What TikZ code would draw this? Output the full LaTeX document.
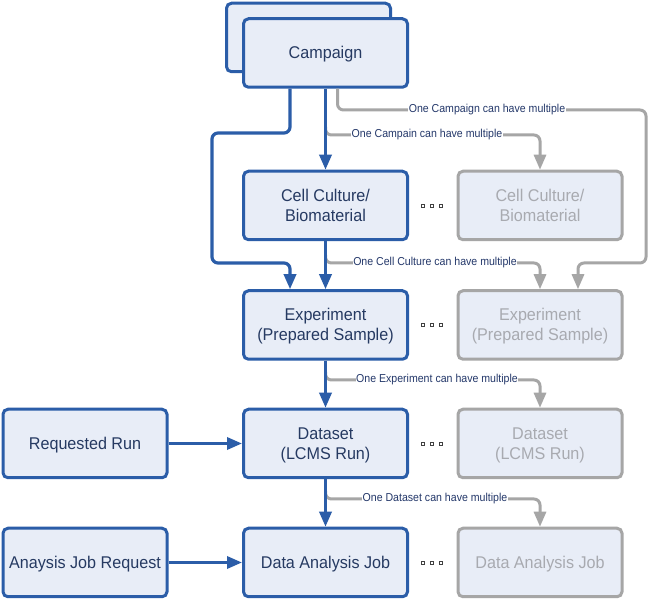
\documentclass[tikz,border=0pt]{standalone}
\usepackage{fontspec}
\setmainfont{Liberation Sans}
\usepackage{graphicx}
\usetikzlibrary{arrows.meta}
\definecolor{bblue}{RGB}{43,93,168}
\definecolor{bfill}{RGB}{232,237,247}
\definecolor{btext}{RGB}{38,58,98}
\definecolor{gline}{RGB}{166,166,166}
\definecolor{gtext}{RGB}{168,170,176}
\definecolor{ltext}{RGB}{36,56,106}
\newcommand{\bxt}[1]{\raisebox{-2pt}[\height][\depth]{\scalebox{0.95}[1]{\begin{tabular}{@{}c@{}}#1\end{tabular}}}}
\newcommand{\lbt}[1]{\scalebox{0.92}[1]{#1}}
\begin{document}
\begin{tikzpicture}[x=1pt,y=-1pt,
  box/.style={draw=bblue, fill=bfill, line width=3pt, rounded corners=5pt,
    minimum width=164pt, minimum height=68.5pt, text=btext,
    font=\fontsize{17}{20}\selectfont, inner sep=0pt},
  gbox/.style={box, draw=gline, text=gtext},
  bl/.style={draw=bblue, line width=3.2pt, rounded corners=6pt, -{Triangle[length=15pt,width=12pt]}},
  gr/.style={draw=gline, line width=3pt, rounded corners=6pt, -{Triangle[length=15pt,width=12pt]}},
  lab/.style={fill=white, text=ltext, font=\fontsize{11.5}{13}\selectfont, inner sep=0.6pt},
  sq/.style={draw=black!75, fill=white, line width=0.45pt, minimum size=2.8pt, inner sep=0pt}]
\useasboundingbox[fill=white] (0,0) rectangle (649,601);

% boxes
\node[box] (back) at (308.5,37.5) {};
\node[box] (camp) at (325.5,53) {\bxt{Campaign}};
\node[box] (cc) at (325.5,205.5) {\bxt{Cell Culture/\\Biomaterial}};
\node[box] (exp) at (325.5,325) {\bxt{Experiment\\(Prepared Sample)}};
\node[box] (ds) at (325.5,443.5) {\bxt{Dataset\\(LCMS Run)}};
\node[box] (daj) at (325.5,562.5) {\bxt{Data Analysis Job}};
\node[box] (rr) at (85,443.5) {\bxt{Requested Run}};
\node[box] (ajr) at (85,562.5) {\bxt{Anaysis Job Request}};
\node[gbox] (gcc) at (540,205.5) {\bxt{Cell Culture/\\Biomaterial}};
\node[gbox] (gexp) at (540,325) {\bxt{Experiment\\(Prepared Sample)}};
\node[gbox] (gds) at (540,443.5) {\bxt{Dataset\\(LCMS Run)}};
\node[gbox] (gdaj) at (540,562.5) {\bxt{Data Analysis Job}};

% dots
\foreach \y [count=\i] in {205.5,325,443.5,562.5}
  \foreach \x [count=\j] in {423,432,441}
    \node[sq] (d\i\j) at (\x,\y) {};

% grey connectors
\draw[gr] ([xshift=12pt]camp.south) |- (646,110) |- ([xshift=38pt]gexp.north |- 0,263) -- ([xshift=38pt]gexp.north);
\draw[gr] (cc.north |- 0,127) |- (gcc.north |- 0,135) -- (gcc.north);
\draw[gr] (cc.south |- 0,255) |- (gexp.north |- 0,263) -- (gexp.north);
\draw[gr] (exp.south |- 0,372) |- (gds.north |- 0,380) -- (gds.north);
\draw[gr] (ds.south |- 0,491) |- (gdaj.north |- 0,499) -- (gdaj.north);

% labels
\node[lab] (l1) at (487,110) {\lbt{One Campaign can have multiple}};
\node[lab] (l2) at (427,135) {\lbt{One Campain can have multiple}};
\node[lab] (l3) at (435,263) {\lbt{One Cell Culture can have multiple}};
\node[lab] (l4) at (437,380) {\lbt{One Experiment can have multiple}};
\node[lab] (l5) at (435,499) {\lbt{One Dataset can have multiple}};

% blue connectors
\draw[bl] ([xshift=-35.5pt]camp.south) -- ([xshift=-35.5pt]camp.south |- 0,133) -| (212,263) -| ([xshift=-35.5pt]exp.north);
\draw[bl] (camp.south) -- (cc.north);
\draw[bl] (cc.south) -- (exp.north);
\draw[bl] (exp.south) -- (ds.north);
\draw[bl] (ds.south) -- (daj.north);
\draw[bl] (rr.east) -- (ds.west);
\draw[bl] (ajr.east) -- (daj.west);
\end{tikzpicture}
\end{document}
